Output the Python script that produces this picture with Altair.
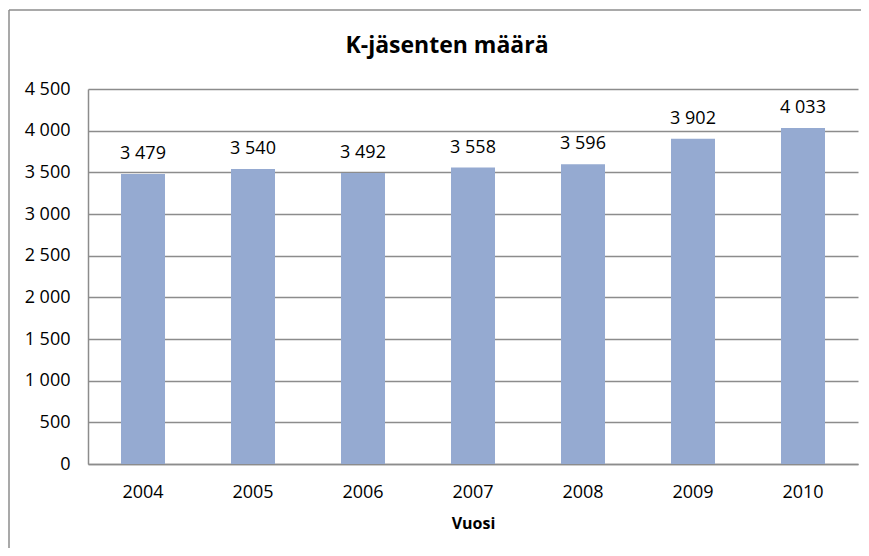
import altair as alt
import pandas as pd

years = ["2004", "2005", "2006", "2007", "2008", "2009", "2010"]
members = [3479, 3540, 3492, 3558, 3596, 3902, 4033]
title_text = ["K-jäsenten määrä"]

df = pd.DataFrame({"Vuosi": years, "Maara": members})
tdf = pd.DataFrame({"t": title_text})

FONT = "Open Sans"
GRID = "#8c8c8c"
BAR = "#95aad1"

base = alt.Chart(df).transform_calculate(
    lbl="replace(format(datum.Maara, ','), ',', ' ')"
)

x = alt.X("Vuosi:N", sort=years,
          scale=alt.Scale(paddingInner=0.6, paddingOuter=0.3),
          axis=alt.Axis(title="Vuosi", labelAngle=0, ticks=False, labelPadding=19,
                        labelFontSize=18, labelFont=FONT, labelColor="#000",
                        titleFont=FONT, titleFontSize=16, titleFontWeight="bold",
                        titleColor="#000", titlePadding=14,
                        domainColor=GRID, domainWidth=1.5))
y = alt.Y("Maara:Q", scale=alt.Scale(domain=[0, 4500], nice=False),
          axis=alt.Axis(title=None, values=list(range(0, 4501, 500)), ticks=False,
                        labelPadding=18, labelFontSize=18, labelFont=FONT,
                        labelColor="#000", gridColor=GRID, gridWidth=1.5,
                        domainColor=GRID, domainWidth=1.5,
                        labelExpr="replace(format(datum.value, ','), ',', ' ')"))

bars = base.mark_bar(color=BAR).encode(x=x, y=y)
labels = base.mark_text(font=FONT, fontSize=18, color="#000", dy=-15,
                        baseline="alphabetic").encode(
    x=alt.X("Vuosi:N", sort=years), y="Maara:Q", text="lbl:N")

frame_top = alt.Chart(tdf).mark_rule(stroke=GRID, strokeWidth=1.5, clip=False).encode(
    x=alt.value(-79), x2=alt.value(790), y=alt.value(-79))
frame_left = alt.Chart(tdf).mark_rule(stroke=GRID, strokeWidth=1.5, clip=False).encode(
    x=alt.value(-79), y=alt.value(-79), y2=alt.value(480))

title = alt.Chart(tdf).mark_text(font=FONT, fontSize=23, fontWeight="bold", color="#000",
                                 baseline="alphabetic", align="center").encode(
    x=alt.value(359), y=alt.value(-36), text="t:N")

chart = alt.layer(frame_top, frame_left, bars, labels, title).properties(
    width=770, height=375,
    autosize=alt.AutoSizeParams(type="none"),
    padding={"left": 80, "top": 81, "right": 3, "bottom": 84},
).configure_view(stroke=None).configure_axisX(grid=False)

chart.save("out.html", embed_options={"renderer": "svg", "actions": False})
